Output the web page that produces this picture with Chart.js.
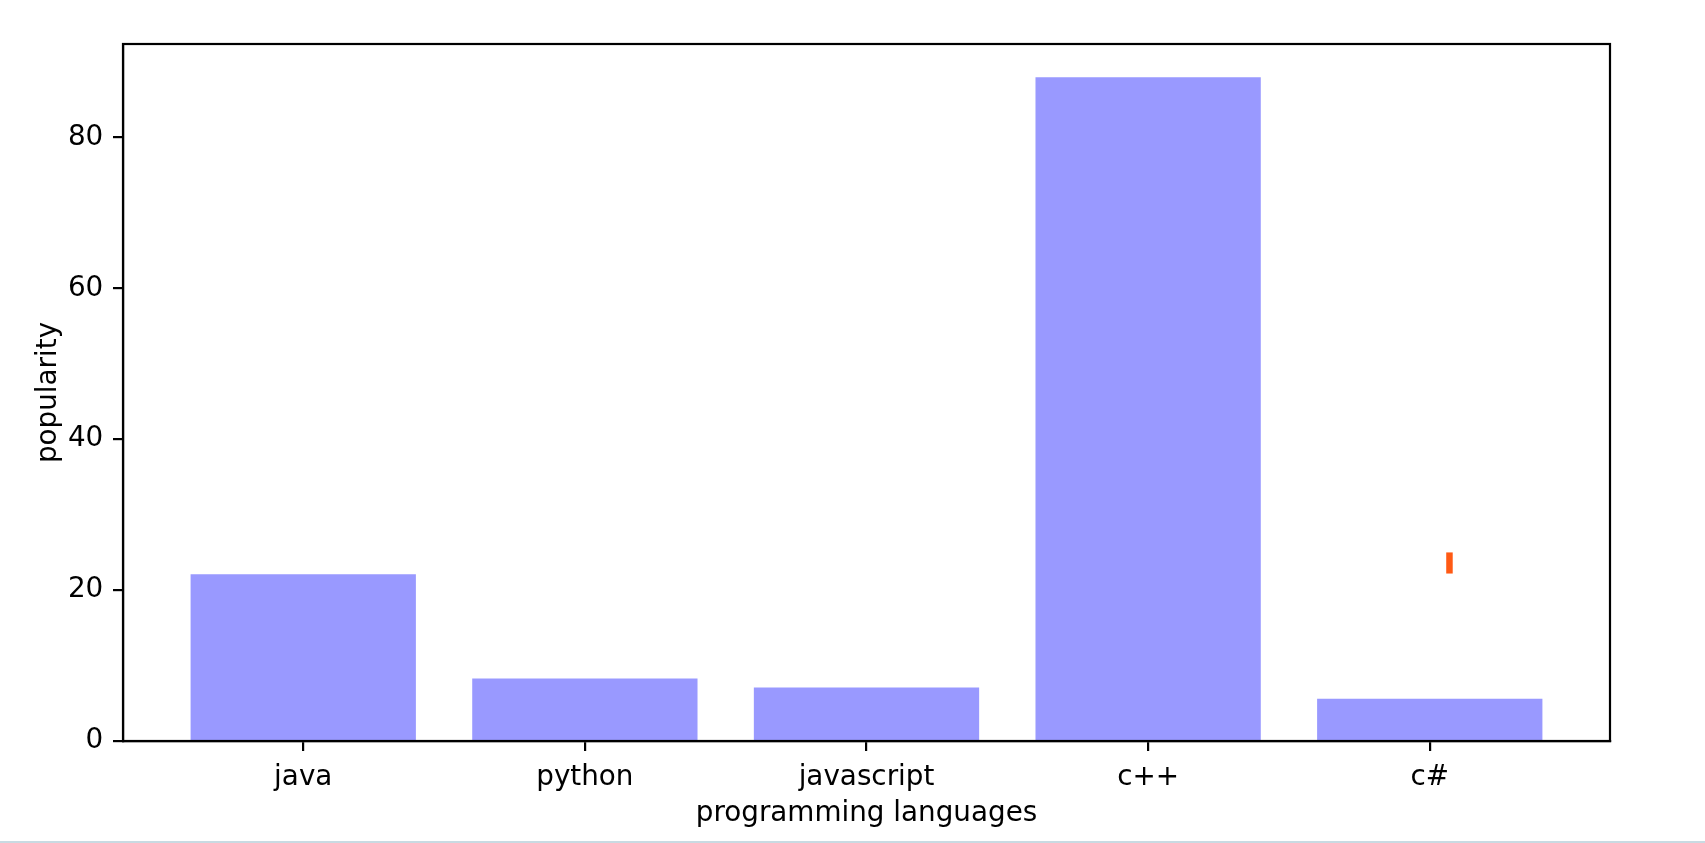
<!DOCTYPE html>
<html><head><meta charset="utf-8">
<script src="https://cdn.jsdelivr.net/npm/chart.js@4/dist/chart.umd.min.js"></script>
<style>
html,body{margin:0;padding:0;background:#fff;overflow:hidden}
#wrap{position:relative;width:1705px;height:843px}
#c{display:block}
#strip{position:absolute;left:0;bottom:0;width:1705px;height:2px;background:#c9dae2}
</style></head><body>
<div id="wrap"><canvas id="c" width="1705" height="843" style="width:1705px;height:843px"></canvas><div id="strip"></div></div>
<script>
const categories = ['java', 'python', 'javascript', 'c++', 'c#'];
const popularity = [22.1, 8.3, 7.1, 88.0, 5.6];
const yTicks = [0, 20, 40, 60, 80];
const markerX = [4.07, 4.07];
const markerY = [22.2, 25.0];
const xLimits = [-0.64, 4.64];
const yLimits = [0, 92.4];

const font = { family: "'DejaVu Sans', sans-serif", size: 27.8 };
const ink = '#000';

const framePlugin = {
  id: 'frame',
  afterDatasetsDraw(chart) {
    const { ctx, chartArea: a } = chart;
    ctx.save();
    ctx.strokeStyle = ink;
    ctx.lineWidth = 2.2;
    ctx.strokeRect(a.left, a.top, a.right - a.left, a.bottom - a.top);
    ctx.restore();
  }
};

new Chart(document.getElementById('c'), {
  data: {
    datasets: [
      {
        type: 'bar',
        data: popularity.map((v, i) => ({ x: i, y: v })),
        backgroundColor: '#9999ff',
        borderWidth: 0,
        barPercentage: 0.8,
        categoryPercentage: 1.0
      },
      {
        type: 'line',
        data: markerX.map((x, i) => ({ x: x, y: markerY[i] })),
        borderColor: '#ff5a14',
        borderWidth: 6.5,
        borderCapStyle: 'butt',
        pointRadius: 0,
        fill: false
      }
    ]
  },
  options: {
    responsive: false,
    devicePixelRatio: 1,
    animation: false,
    layout: { padding: { left: 0, top: 44, right: 95, bottom: 0 } },
    plugins: { legend: { display: false }, tooltip: { enabled: false } },
    scales: {
      x: {
        type: 'linear',
        offset: false,
        min: xLimits[0],
        max: xLimits[1],
        afterBuildTicks: s => { s.ticks = categories.map((_, i) => ({ value: i })); },
        afterFit: s => { s.height = 102; },
        ticks: {
          callback: v => categories[v] ?? '',
          font: font, color: ink, padding: 9.7, maxRotation: 0, autoSkip: false
        },
        grid: { offset: false, drawOnChartArea: false, drawTicks: true, tickLength: 10, color: ink, lineWidth: 2.2 },
        border: { display: true, color: ink, width: 2.2 },
        title: { display: true, text: 'programming languages', font: font, color: ink, padding: { top: 0, bottom: 12.8 } }
      },
      y: {
        type: 'linear',
        min: yLimits[0],
        max: yLimits[1],
        afterBuildTicks: s => { s.ticks = yTicks.map(v => ({ value: v })); },
        afterFit: s => { s.width = 123; },
        ticks: { font: font, color: ink, padding: 9.7 },
        grid: { drawOnChartArea: false, drawTicks: true, tickLength: 10, color: ink, lineWidth: 2.2 },
        border: { display: true, color: ink, width: 2.2 },
        title: { display: true, text: 'popularity', font: font, color: ink, padding: { top: 32, bottom: 0 } }
      }
    }
  },
  plugins: [framePlugin]
});
</script>
</body></html>
